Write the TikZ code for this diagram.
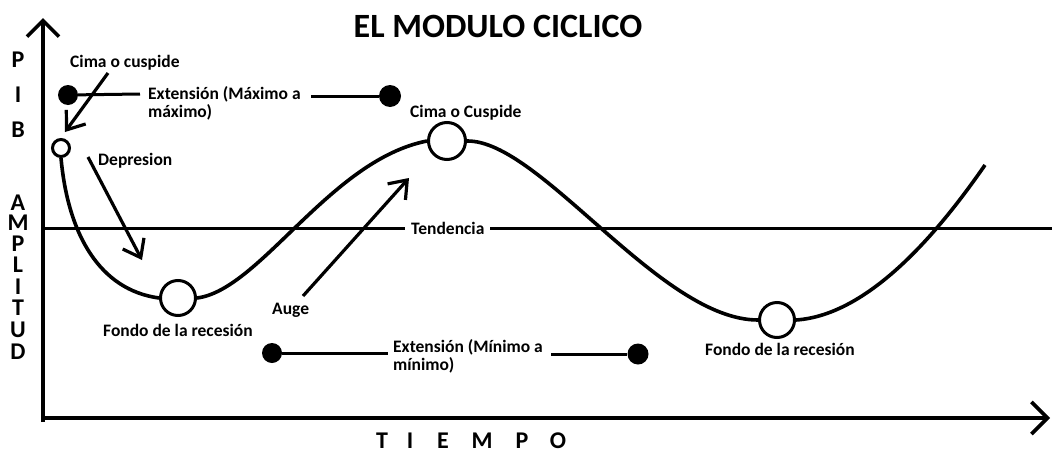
\documentclass[tikz,border=0pt]{standalone}
\usepackage{fontspec}
\setmainfont{Carlito}
\usetikzlibrary{arrows.meta}
\begin{document}
\begin{tikzpicture}[x=1pt,y=-1pt,
  axis/.style={line width=3.6pt,-{Straight Barb[length=16pt,width=32pt,line width=3.6pt]}},
  curve/.style={line width=3.6pt},
  ptr/.style={line width=3.2pt,-{Straight Barb[length=16pt,width=24pt,line width=3.2pt]}},
  hollow/.style={circle,draw,line width=3pt,fill=white,inner sep=0pt,minimum size=#1},
  dot/.style={circle,fill=black,inner sep=0pt,minimum size=#1},
  lbl/.style={font=\bfseries\fontsize{17.5}{18}\selectfont,inner sep=0pt,anchor=west,align=left},
  axl/.style={font=\bfseries\fontsize{24}{24}\selectfont,inner sep=0pt,text height=15pt,text depth=0pt}
]
\useasboundingbox (0,0) rectangle (1052,450);
% axes
\coordinate (O) at (43,420);
\coordinate (ytop) at (43,18);
\coordinate (xend) at (1050,418);
\draw[axis] (43,422) -- (ytop);
\draw[axis] (41,418) -- (xend);
% title
\node[font=\bfseries\fontsize{34}{34}\selectfont,inner sep=0pt] (title) at (498,26) {EL MODULO CICLICO};
% axis labels
\foreach \l/\yy [count=\i] in {P/60,I/95,B/130} \node[axl] (pib\i) at (18,\yy) {\l};
\foreach \l/\yy [count=\i] in {A/203,M/223,P/244,L/265,I/287,T/308,U/330,D/352} \node[axl] (amp\i) at (18,\yy) {\l};
\foreach \l/\xx [count=\i] in {T/382,I/410,E/443,M/482,P/522,O/558} \node[axl] (tiempo\i) at (\xx,441) {\l};
% trend line
\coordinate (t0) at (43,228);
\coordinate (t1) at (1052,228);
\draw[line width=3pt] (t0) -- (t1);
\node[lbl,fill=white,inner xsep=6pt,inner ysep=2pt] (tend) at (405,228) {Tendencia};
% circles on curve
\node[hollow=17pt] (c0) at (61,148) {};
\node[hollow=35pt] (f1) at (178,298) {};
\node[hollow=37pt] (c1) at (447,141) {};
\node[hollow=35pt] (f2) at (777,320) {};
\coordinate (cend) at (985,165);
% curve
\draw[curve] (c0.south) .. controls (68,235) and (100,290) .. (f1.west);
\draw[curve] (f1.east) .. controls (260,290) and (330,160) .. (c1.west);
\draw[curve] (c1.east) .. controls (540,140) and (660,320) .. (f2.west);
\draw[curve] (f2.east) .. controls (870,315) and (940,230) .. (cend);
% labels
\node[lbl] (cimaL) at (70,63) {Cima o cuspide};
\node[lbl] (dep) at (98,161) {Depresion};
\node[lbl] (cimaR) at (410,113) {Cima o Cuspide};
\node[lbl] (fondoL) at (103,330) {Fondo de la recesión};
\node[lbl] (fondoR) at (705,349) {Fondo de la recesión};
\node[lbl] (auge) at (272,310) {Auge};
\node[lbl] (extTop) at (148,103) {Extensión (Máximo a\\máximo)};
\node[lbl] (extBot) at (393,356) {Extensión (Mínimo a\\mínimo)};
% pointer arrows
\coordinate (a1s) at (108,73);
\coordinate (a1e) at (65,132);
\draw[ptr] (a1s) -- (a1e);
\coordinate (a2s) at (88,157);
\coordinate (a2e) at (142,260);
\draw[ptr] (a2s) -- (a2e);
\coordinate (a3s) at (303,296);
\coordinate (a3e) at (409,178);
\draw[ptr] (a3s) -- (a3e);
% extension bars
\node[dot=20pt] (d1) at (68,95) {};
\node[dot=22pt] (d2) at (390,96) {};
\node[dot=20pt] (d3) at (272,353) {};
\node[dot=21pt] (d4) at (638,354) {};
\coordinate (e1) at (140,94);
\coordinate (e2) at (311,96);
\coordinate (e3) at (388,353);
\coordinate (e4) at (551,354);
\draw[line width=3pt] (d1) -- (e1);
\draw[line width=3pt] (e2) -- (d2);
\draw[line width=3pt] (d3) -- (e3);
\draw[line width=3pt] (e4) -- (d4);
\end{tikzpicture}
\end{document}
